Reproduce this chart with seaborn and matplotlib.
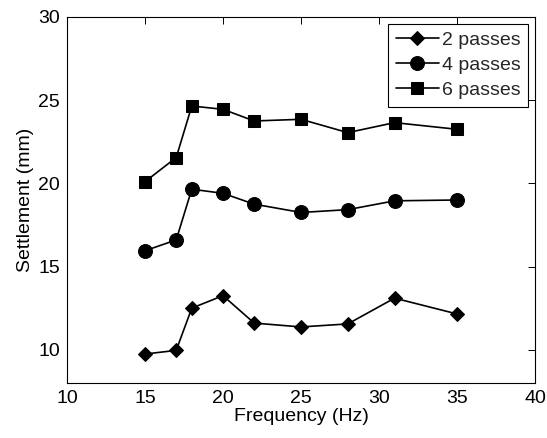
import matplotlib
matplotlib.use("Agg")
import matplotlib.pyplot as plt
import seaborn as sns
import pandas as pd

freq = [15, 17, 18, 20, 22, 25, 28, 31, 35]
passes_2 = [9.74, 9.96, 12.5, 13.25, 11.6, 11.37, 11.55, 13.1, 12.15]
passes_4 = [15.95, 16.6, 19.65, 19.4, 18.75, 18.25, 18.42, 18.95, 19.0]
passes_6 = [20.1, 21.55, 24.65, 24.45, 23.75, 23.85, 23.05, 23.65, 23.25]
labels = ["2 passes", "4 passes", "6 passes"]
xticks = [10, 15, 20, 25, 30, 35, 40]
yticks = [10, 15, 20, 25, 30]

sns.set_theme(style="white")
plt.rcParams["font.family"] = ["Liberation Sans", "DejaVu Sans"]

fig = plt.figure(figsize=(5.47, 4.38), dpi=100)
ax = fig.add_axes([0.1225, 0.1256, 0.8555, 0.8356])

series = [passes_2, passes_4, passes_6]
markers = ["D", "o", "s"]
msizes = [7.5, 10, 9]
for lab, vals, mk, ms in zip(labels, series, markers, msizes):
    df = pd.DataFrame({"Frequency": freq, "Settlement": vals})
    sns.lineplot(data=df, x="Frequency", y="Settlement", ax=ax, color="black",
                 marker=mk, markersize=ms, linewidth=1.2, markeredgecolor="black",
                 markerfacecolor="black", label=lab)

ax.set_xlim(10, 40)
ax.set_ylim(8, 30)
ax.set_xticks(xticks)
ax.set_yticks(yticks)
ax.tick_params(direction="in", length=5, width=0.7, top=True, right=True,
               labelsize=14, colors="black", pad=5)
for s in ax.spines.values():
    s.set_color("black")
    s.set_linewidth(0.8)
ax.set_xlabel("Frequency (Hz)", fontsize=14, color="black", labelpad=1)
ax.set_ylabel("Settlement (mm)", fontsize=14, color="black", labelpad=3)

leg = ax.legend(loc="upper right", fontsize=14, frameon=True, fancybox=False,
                edgecolor="black", framealpha=1, handlelength=2.2,
                borderpad=0.4, labelspacing=0.38, handletextpad=0.15,
                borderaxespad=0.35)
leg.get_frame().set_linewidth(0.8)

fig.savefig("out.png", dpi=100)
